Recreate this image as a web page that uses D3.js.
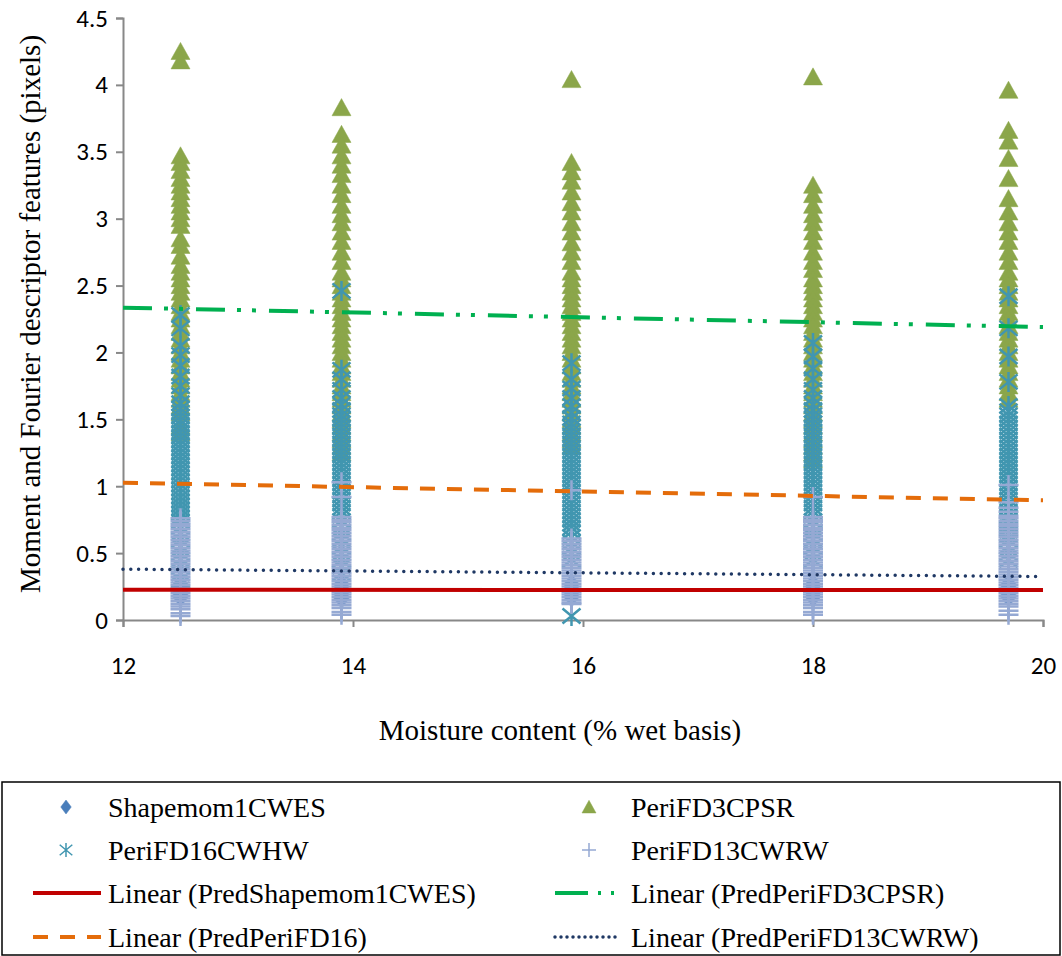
<!DOCTYPE html>
<html>
<head>
<meta charset="utf-8">
<script src="https://cdn.jsdelivr.net/npm/d3@7.9.0/dist/d3.min.js"></script>
<style>
  body { margin: 0; background: #fff; }
  svg { display: block; }
</style>
</head>
<body>
<svg id="chart" width="1062" height="956"></svg>
<script>
// Moisture levels (x) - each series has one list of readings per level
const moisture = [12.5, 13.9, 15.9, 18, 19.7];

// Shapemom1CWES (diamonds, mostly hidden under the other markers)
const shapemom1CWES = [
  [0.17, 0.19, 0.21, 0.23, 0.25, 0.27],
  [0.16, 0.19, 0.21, 0.23, 0.25, 0.27],
  [0.17, 0.19, 0.21, 0.23, 0.25, 0.27],
  [0.17, 0.19, 0.21, 0.23, 0.25, 0.27],
  [0.17, 0.19, 0.21, 0.23, 0.25, 0.27]
];

// PeriFD3CPSR (triangles)
const periFD3CPSR = [
  [4.25, 4.18, 3.47, 3.42, 3.36, 3.30, 3.25, 3.20, 3.15, 3.10, 3.05, 3.00, 2.95, 2.85, 2.80, 2.72, 2.65, 2.60,
   2.55, 2.50, 2.45, 2.40, 2.35, 2.30, 2.25, 2.20, 2.15, 2.10, 2.05, 2.00, 1.95, 1.90, 1.85, 1.80, 1.75, 1.70,
   1.65, 1.60, 1.55, 1.45, 1.40],
  [3.83, 3.63, 3.55, 3.47, 3.40, 3.33, 3.25, 3.18, 3.10, 3.03, 2.97, 2.90, 2.83, 2.75, 2.68, 2.60, 2.55, 2.50,
   2.45, 2.40, 2.35, 2.30, 2.25, 2.20, 2.15, 2.10, 2.05, 2.00, 1.95, 1.90, 1.85, 1.80, 1.75, 1.70, 1.65, 1.60,
   1.55, 1.50, 1.45, 1.40, 1.35, 1.30, 1.25],
  [4.04, 3.42, 3.35, 3.28, 3.20, 3.12, 3.05, 2.97, 2.90, 2.82, 2.75, 2.68, 2.60, 2.55, 2.50, 2.45, 2.40, 2.35,
   2.30, 2.25, 2.20, 2.15, 2.10, 2.05, 2.00, 1.95, 1.90, 1.85, 1.80, 1.75, 1.70, 1.65, 1.60, 1.55, 1.50, 1.45,
   1.40, 1.35, 1.30],
  [4.06, 3.25, 3.18, 3.10, 3.03, 2.97, 2.90, 2.83, 2.75, 2.68, 2.62, 2.55, 2.50, 2.45, 2.40, 2.35, 2.30, 2.25,
   2.20, 2.15, 2.10, 2.05, 2.00, 1.95, 1.90, 1.85, 1.80, 1.75, 1.70, 1.65, 1.60, 1.55, 1.50, 1.45, 1.40, 1.35,
   1.30, 1.25, 1.20],
  [3.96, 3.66, 3.58, 3.45, 3.30, 3.15, 3.05, 2.97, 2.90, 2.83, 2.75, 2.68, 2.60, 2.55, 2.50, 2.45, 2.40, 2.35,
   2.30, 2.25, 2.20, 2.15, 2.10, 2.05, 2.00, 1.95, 1.90, 1.85, 1.80, 1.75, 1.70, 1.65]
];

// PeriFD16CWHW (asterisks)
const periFD16CWHW = [
  [2.28, 2.18, 2.05, 1.98, 1.90, 1.82, 1.75, 1.68, 1.62, 1.58, 1.55, 1.52, 1.49, 1.46, 1.43, 1.40, 1.37, 1.34,
   1.31, 1.28, 1.25, 1.22, 1.19, 1.16, 1.13, 1.10, 1.07, 1.04, 1.01, 0.98, 0.95, 0.92, 0.89, 0.86, 0.83, 0.80,
   0.77, 0.74, 0.70, 0.65, 0.60, 0.55, 0.50, 0.45, 0.40, 0.35, 0.30],
  [2.46, 1.87, 1.80, 1.72, 1.66, 1.61, 1.57, 1.53, 1.50, 1.47, 1.44, 1.41, 1.38, 1.35, 1.32, 1.29, 1.26, 1.23,
   1.20, 1.17, 1.14, 1.11, 1.08, 1.05, 1.02, 0.99, 0.96, 0.93, 0.90, 0.87, 0.84, 0.81, 0.78, 0.74, 0.70, 0.65,
   0.60, 0.55, 0.50, 0.45, 0.40, 0.35],
  [1.92, 1.80, 1.73, 1.66, 1.60, 1.55, 1.51, 1.47, 1.44, 1.41, 1.38, 1.35, 1.32, 1.29, 1.26, 1.23, 1.20, 1.17,
   1.14, 1.11, 1.08, 1.05, 1.02, 0.99, 0.96, 0.93, 0.90, 0.87, 0.84, 0.81, 0.78, 0.75, 0.72, 0.69, 0.66, 0.62,
   0.58, 0.54, 0.50, 0.45, 0.03],
  [2.07, 1.97, 1.88, 1.80, 1.72, 1.66, 1.61, 1.57, 1.53, 1.50, 1.47, 1.44, 1.41, 1.38, 1.35, 1.32, 1.29, 1.26,
   1.23, 1.20, 1.17, 1.14, 1.11, 1.08, 1.05, 1.02, 0.99, 0.96, 0.93, 0.90, 0.87, 0.84, 0.81, 0.78, 0.74, 0.70,
   0.65, 0.60, 0.55, 0.50, 0.45],
  [2.42, 2.18, 1.97, 1.78, 1.60, 1.56, 1.53, 1.50, 1.47, 1.44, 1.41, 1.38, 1.35, 1.32, 1.29, 1.26, 1.23, 1.20,
   1.17, 1.14, 1.11, 1.08, 1.05, 1.02, 0.99, 0.96, 0.93, 0.90, 0.87, 0.84, 0.81, 0.78, 0.75, 0.72, 0.68, 0.64,
   0.60, 0.55, 0.50, 0.45]
];

// PeriFD13CWRW (plus signs)
const periFD13CWRW = [
  [0.76, 0.74, 0.72, 0.70, 0.68, 0.66, 0.64, 0.62, 0.60, 0.58, 0.56, 0.54, 0.52, 0.50, 0.48, 0.46, 0.44, 0.42,
   0.40, 0.38, 0.36, 0.34, 0.32, 0.30, 0.28, 0.26, 0.24, 0.22, 0.20, 0.18, 0.16, 0.14, 0.12, 0.10, 0.08, 0.05,
   0.03],
  [1.03, 0.92, 0.77, 0.75, 0.73, 0.71, 0.69, 0.67, 0.65, 0.63, 0.61, 0.59, 0.57, 0.55, 0.53, 0.51, 0.49, 0.47,
   0.45, 0.43, 0.41, 0.39, 0.37, 0.35, 0.33, 0.31, 0.29, 0.27, 0.25, 0.23, 0.21, 0.19, 0.17, 0.15, 0.13, 0.11,
   0.09, 0.06, 0.04],
  [0.97, 0.61, 0.59, 0.57, 0.55, 0.53, 0.51, 0.49, 0.47, 0.45, 0.43, 0.41, 0.39, 0.37, 0.35, 0.33, 0.31, 0.29,
   0.27, 0.25, 0.23, 0.21, 0.19, 0.17, 0.15, 0.13, 0.12],
  [0.92, 0.77, 0.75, 0.73, 0.71, 0.69, 0.67, 0.65, 0.63, 0.61, 0.59, 0.57, 0.55, 0.53, 0.51, 0.49, 0.47, 0.45,
   0.43, 0.41, 0.39, 0.37, 0.35, 0.33, 0.31, 0.29, 0.27, 0.25, 0.23, 0.21, 0.19, 0.17, 0.15, 0.13, 0.11, 0.09,
   0.06, 0.04],
  [1.01, 0.88, 0.84, 0.81, 0.78, 0.76, 0.74, 0.72, 0.70, 0.68, 0.66, 0.64, 0.62, 0.60, 0.58, 0.56, 0.54, 0.52,
   0.50, 0.48, 0.46, 0.44, 0.42, 0.40, 0.38, 0.36, 0.34, 0.32, 0.30, 0.28, 0.26, 0.24, 0.22, 0.20, 0.18, 0.16,
   0.14, 0.12, 0.10, 0.07, 0.04]
];

// Linear trendlines, value at x = 12 and x = 20
const trendX = [12, 20];
const predShapemom1CWES = [0.226, 0.224];
const predPeriFD3CPSR = [2.335, 2.19];
const predPeriFD16 = [1.026, 0.895];
const predPeriFD13CWRW = [0.38, 0.325];

// Axis ticks
const xTicks = [12, 14, 16, 18, 20];
const yTicks = [0, 0.5, 1, 1.5, 2, 2.5, 3, 3.5, 4, 4.5];

// ---- styles ----
const colDiamond = '#4A7EBB';
const colTriangle = '#8BA64A';
const colStar = '#4196B0';
const colPlus = '#95A9D3';
const tickFont = 'Carlito, Calibri, Lato, sans-serif';
const serifFont = '"Liberation Serif", "Times New Roman", serif';

const svg = d3.select('#chart');

const x = d3.scaleLinear().domain([12, 20]).range([123, 1043]);
const y = d3.scaleLinear().domain([0, 4.5]).range([620, 18]);

// marker shapes (pixel geometry only)
const markerPath = {
  diamond: (s) => `M0,${-s}L${s * 0.75},0L0,${s}L${-s * 0.75},0Z`,
  triangle: (s) => `M0,${-s * 0.95}L${s},${s * 0.85}L${-s},${s * 0.85}Z`,
  star: (s) => `M${-s * 0.9},${-s * 0.75}L${s * 0.9},${s * 0.75}M${-s * 0.9},${s * 0.75}L${s * 0.9},${-s * 0.75}M0,${-s}L0,${s}`,
  plus: (s) => `M${-s},0L${s},0M0,${-s}L0,${s}`
};

const series = [
  { name: 'Shapemom1CWES', values: shapemom1CWES, shape: 'diamond', color: colDiamond, size: 10, filled: true },
  { name: 'PeriFD3CPSR', values: periFD3CPSR, shape: 'triangle', color: colTriangle, size: 9.5, filled: true },
  { name: 'PeriFD16CWHW', values: periFD16CWHW, shape: 'star', color: colStar, size: 10, filled: false },
  { name: 'PeriFD13CWRW', values: periFD13CWRW, shape: 'plus', color: colPlus, size: 10, filled: false }
];

// ---- axes ----
const yAxis = svg.append('g')
  .attr('transform', `translate(${x(12)},0)`)
  .call(d3.axisLeft(y).tickValues(yTicks).tickSize(7).tickPadding(8).tickFormat((d) => d));

const xAxis = svg.append('g')
  .attr('transform', `translate(0,${y(0)})`)
  .call(d3.axisBottom(x).tickValues(xTicks).tickSize(7).tickPadding(29).tickFormat((d) => d));

[xAxis, yAxis].forEach((g) => {
  g.select('.domain').attr('stroke', '#888').attr('stroke-width', 2);
  g.selectAll('.tick line').attr('stroke', '#888').attr('stroke-width', 2);
  g.selectAll('.tick text').attr('fill', '#000').style('font-family', tickFont).style('font-size', '25px');
});

// ---- scatter markers ----
series.forEach((s) => {
  const pts = [];
  s.values.forEach((col, i) => col.forEach((v) => pts.push({ x: moisture[i], y: v })));
  svg.append('g')
    .selectAll('path')
    .data(pts)
    .join('path')
    .attr('transform', (d) => `translate(${x(d.x)},${y(d.y)})`)
    .attr('d', markerPath[s.shape](s.size))
    .attr('fill', s.filled ? s.color : 'none')
    .attr('stroke', s.color)
    .attr('stroke-width', s.filled ? 0.5 : 2.5);
});

// ---- trendlines ----
const trends = [
  { name: 'Linear (PredShapemom1CWES)', values: predShapemom1CWES, color: '#C00000', dash: null, legendDash: null, width: 4, cap: 'butt' },
  { name: 'Linear (PredPeriFD3CPSR)', values: predPeriFD3CPSR, color: '#00B050', dash: '29 12 4 11 4 13', legendDash: '33 10 3 10 3 10', width: 4, cap: 'butt' },
  { name: 'Linear (PredPeriFD16)', values: predPeriFD16, color: '#E46C0A', dash: '15 12', legendDash: '15 12', width: 4, cap: 'butt' },
  { name: 'Linear (PredPeriFD13CWRW)', values: predPeriFD13CWRW, color: '#1F3864', dash: '0 7.8', legendDash: '0 6', width: 3.5, cap: 'round' }
];

const line = d3.line().x((d) => x(d[0])).y((d) => y(d[1]));

trends.forEach((t) => {
  svg.append('path')
    .attr('d', line(trendX.map((xv, i) => [xv, t.values[i]])))
    .attr('fill', 'none')
    .attr('stroke', t.color)
    .attr('stroke-width', t.width)
    .attr('stroke-linecap', t.cap)
    .attr('stroke-dasharray', t.dash);
});

// ---- axis titles ----
svg.append('text')
  .attr('x', 560).attr('y', 730)
  .attr('text-anchor', 'middle').attr('dominant-baseline', 'central')
  .style('font-family', serifFont).style('font-size', '29px')
  .text('Moisture content (% wet basis)');

svg.append('text')
  .attr('transform', 'translate(30,314) rotate(-90)')
  .attr('text-anchor', 'middle').attr('dominant-baseline', 'central')
  .style('font-family', serifFont).style('font-size', '29px')
  .text('Moment and Fourier descriptor features (pixels)');

// ---- legend ----
const legend = svg.append('g');
legend.append('rect')
  .attr('x', 2).attr('y', 782).attr('width', 1058).attr('height', 173)
  .attr('fill', 'none').attr('stroke', '#000').attr('stroke-width', 1.5);

const rowY = [807, 850, 893, 937];
const colMarkX = [66, 589];
const colLineX = [[33, 101], [555, 620]];
const colTextX = [108, 631];

const legendItems = [
  { kind: 'marker', s: series[0], row: 0, col: 0 },
  { kind: 'marker', s: series[1], row: 0, col: 1 },
  { kind: 'marker', s: series[2], row: 1, col: 0 },
  { kind: 'marker', s: series[3], row: 1, col: 1 },
  { kind: 'line', s: trends[0], row: 2, col: 0 },
  { kind: 'line', s: trends[1], row: 2, col: 1 },
  { kind: 'line', s: trends[2], row: 3, col: 0 },
  { kind: 'line', s: trends[3], row: 3, col: 1 }
];

legendItems.forEach((item) => {
  const ly = rowY[item.row];
  if (item.kind === 'marker') {
    const s = item.s;
    legend.append('path')
      .attr('transform', `translate(${colMarkX[item.col]},${ly})`)
      .attr('d', markerPath[s.shape](7))
      .attr('fill', s.filled ? s.color : 'none')
      .attr('stroke', s.color)
      .attr('stroke-width', s.filled ? 0.5 : 1.5);
  } else {
    const t = item.s;
    legend.append('line')
      .attr('x1', colLineX[item.col][0]).attr('x2', colLineX[item.col][1])
      .attr('y1', ly).attr('y2', ly)
      .attr('stroke', t.color)
      .attr('stroke-width', t.width)
      .attr('stroke-linecap', t.cap)
      .attr('stroke-dasharray', t.legendDash);
  }
  legend.append('text')
    .attr('x', colTextX[item.col]).attr('y', ly)
    .attr('dominant-baseline', 'central')
    .style('font-family', serifFont).style('font-size', '28px')
    .text(item.s.name);
});
</script>
</body>
</html>
